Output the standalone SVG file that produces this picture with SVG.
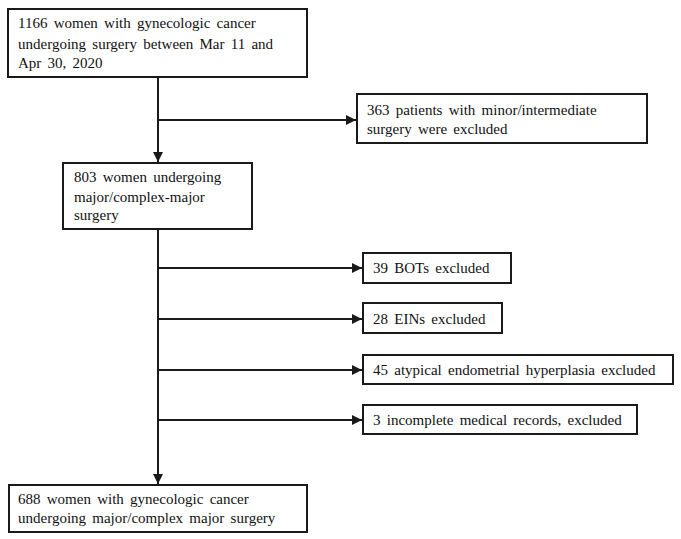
<svg xmlns="http://www.w3.org/2000/svg" width="681" height="539" viewBox="0 0 681 539">
<style>
.box{fill:#fff;stroke:#1a1a1a;stroke-width:2}
.t{font-family:"Liberation Serif","Times New Roman",serif;font-size:15px;word-spacing:2.5px;fill:#111}
.ln{stroke:#1a1a1a;stroke-width:2;fill:none}
</style>
<defs>
<marker id="ah" viewBox="0 0 10 10" refX="10" refY="5" markerWidth="5" markerHeight="5" orient="auto" markerUnits="strokeWidth">
<path d="M0,0 L10,5 L0,10 z" fill="#1a1a1a"/>
</marker>
</defs>
<rect width="681" height="539" fill="#fff"/>
<g id="connectors">
<line class="ln" x1="158" y1="77" x2="158" y2="162" marker-end="url(#ah)"/>
<line class="ln" x1="158" y1="120" x2="356" y2="120" marker-end="url(#ah)"/>
<line class="ln" x1="158" y1="229" x2="158" y2="484" marker-end="url(#ah)"/>
<line class="ln" x1="158" y1="268" x2="362" y2="268" marker-end="url(#ah)"/>
<line class="ln" x1="158" y1="319" x2="362" y2="319" marker-end="url(#ah)"/>
<line class="ln" x1="158" y1="370" x2="362" y2="370" marker-end="url(#ah)"/>
<line class="ln" x1="158" y1="420" x2="362" y2="420" marker-end="url(#ah)"/>
</g>
<g id="n1166">
<rect class="box" x="8" y="9" width="299" height="68"/>
<text class="t" x="18" y="28">1166 women with gynecologic cancer</text>
<text class="t" x="18" y="49">undergoing surgery between Mar 11 and</text>
<text class="t" x="18" y="68">Apr 30, 2020</text>
</g>
<g id="n363">
<rect class="box" x="357" y="94" width="290" height="49"/>
<text class="t" x="367" y="115">363 patients with minor/intermediate</text>
<text class="t" x="367" y="134">surgery were excluded</text>
</g>
<g id="n803">
<rect class="box" x="63" y="163" width="189" height="66"/>
<text class="t" x="74" y="182">803 women undergoing</text>
<text class="t" x="74" y="202">major/complex-major</text>
<text class="t" x="74" y="220">surgery</text>
</g>
<g id="nBOT">
<rect class="box" x="363" y="253" width="148" height="30"/>
<text class="t" x="373" y="273">39 BOTs excluded</text>
</g>
<g id="nEIN">
<rect class="box" x="363" y="303" width="139" height="30"/>
<text class="t" x="373" y="324">28 EINs excluded</text>
</g>
<g id="nAEH">
<rect class="box" x="363" y="355" width="310" height="29"/>
<text class="t" x="373" y="375">45 atypical endometrial hyperplasia excluded</text>
</g>
<g id="nIMR">
<rect class="box" x="363" y="405" width="274" height="29"/>
<text class="t" x="373" y="425">3 incomplete medical records, excluded</text>
</g>
<g id="n688">
<rect class="box" x="9" y="485" width="298" height="47"/>
<text class="t" x="18" y="504">688 women with gynecologic cancer</text>
<text class="t" x="18" y="523">undergoing major/complex major surgery</text>
</g>
</svg>
